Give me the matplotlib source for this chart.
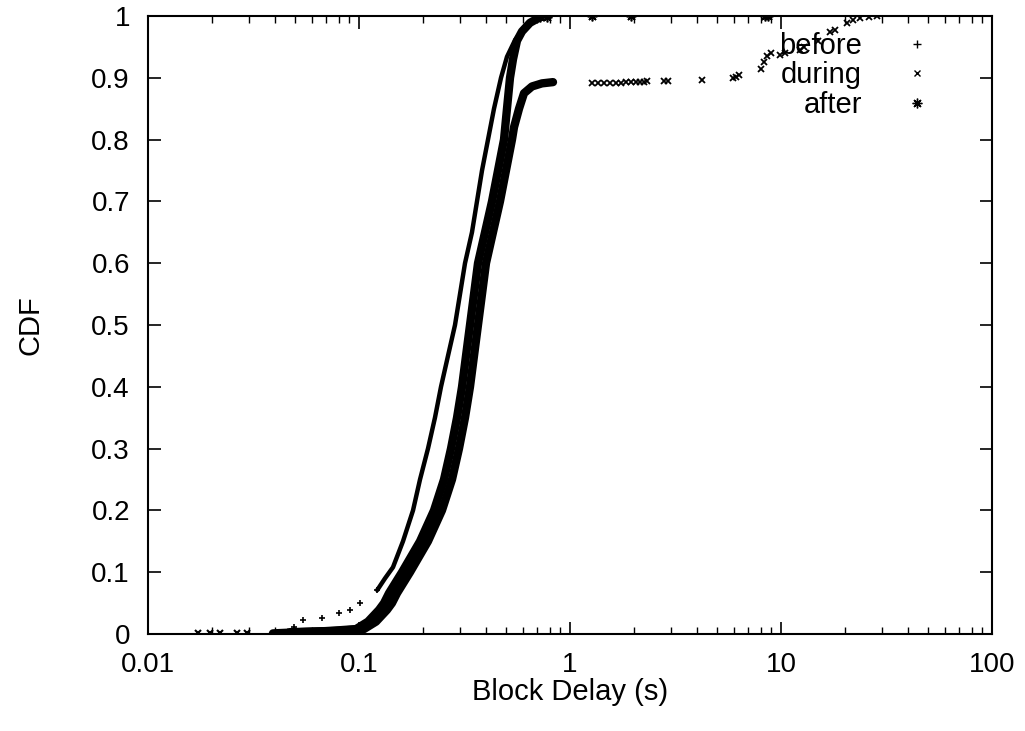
import matplotlib
matplotlib.use("Agg")
import matplotlib.pyplot as plt
from matplotlib.ticker import LogLocator, NullFormatter

plt.rcParams['font.family'] = ['Liberation Sans', 'DejaVu Sans']

# CDF curves: delay (s) vs cumulative fraction
before_x = [0.042, 0.049, 0.054, 0.067, 0.080, 0.091, 0.101, 0.122, 0.1328, 0.1449,
            0.1616, 0.1803, 0.1946, 0.2123, 0.2291, 0.2447, 0.2641, 0.2851, 0.3011,
            0.3180, 0.3431, 0.3624, 0.3828, 0.4087, 0.4363, 0.4710, 0.5027, 0.5487,
            0.6053, 0.6604, 0.7210]
before_y = [0.003, 0.012, 0.023, 0.026, 0.034, 0.039, 0.05, 0.071, 0.09, 0.108,
            0.15, 0.2, 0.25, 0.3, 0.35, 0.4, 0.45, 0.5, 0.55,
            0.6, 0.65, 0.7, 0.75, 0.8, 0.85, 0.9, 0.934, 0.961,
            0.98, 0.993, 1.0]

during_x = [0.0173, 0.0197, 0.0219, 0.0264, 0.0294, 0.0471, 0.0770, 0.1056, 0.1204,
            0.1357, 0.1433, 0.1514, 0.1745, 0.2123, 0.2473, 0.2759, 0.2978, 0.3180,
            0.3358, 0.3508, 0.3664, 0.3828, 0.3999, 0.4315, 0.4658, 0.4973, 0.5310,
            0.5428, 0.5733, 0.6053, 0.6604, 0.7368, 0.8307]
during_y = [0.001, 0.001, 0.002, 0.002, 0.002, 0.003, 0.005, 0.008, 0.02,
            0.039, 0.05, 0.066, 0.1, 0.15, 0.2, 0.25, 0.3, 0.35,
            0.4, 0.45, 0.5, 0.55, 0.6, 0.65, 0.7, 0.75, 0.8,
            0.82, 0.85, 0.875, 0.886, 0.891, 0.893]

# long tail of the "during" curve (sparse points beyond 1 s)
tail_x = [1.27, 1.35, 1.45, 1.55, 1.65, 1.75, 1.85, 1.95, 2.05, 2.15, 2.25, 2.32,
          2.8, 2.9, 4.2, 5.9, 6.1, 6.3, 8.0, 8.3, 8.6, 9.0, 9.9, 10.5, 12.3, 12.8,
          15.0, 17.1, 18.0, 20.6, 22.0, 23.7, 26.0, 28.5]
tail_y = [0.891, 0.891, 0.892, 0.892, 0.892, 0.892, 0.893, 0.893, 0.893, 0.894,
          0.894, 0.895, 0.895, 0.895, 0.896, 0.899, 0.902, 0.905, 0.915, 0.925,
          0.935, 0.94, 0.937, 0.94, 0.945, 0.95, 0.96, 0.974, 0.978, 0.989,
          0.993, 0.997, 0.998, 1.0]

after_x = [0.0391, 0.0525, 0.0729, 0.0968, 0.1103, 0.1244, 0.1314, 0.1387, 0.1599,
           0.1946, 0.2267, 0.2528, 0.2729, 0.2914, 0.3078, 0.3214, 0.3358, 0.3508,
           0.3664, 0.3955, 0.4269, 0.4558, 0.4866, 0.5027, 0.5196, 0.5369, 0.5608,
           0.5922, 0.6462, 0.7210, 0.78, 1.27, 1.95, 8.4, 8.7]
after_y = [0.001, 0.003, 0.005, 0.008, 0.02, 0.039, 0.05, 0.066, 0.1,
           0.15, 0.2, 0.25, 0.3, 0.35, 0.4, 0.45, 0.5, 0.55,
           0.6, 0.65, 0.7, 0.75, 0.8, 0.85, 0.9, 0.93, 0.96,
           0.975, 0.989, 0.998, 0.999, 1.0, 1.0, 1.0, 1.0]

xtick_vals = [0.01, 0.1, 1, 10, 100]
xtick_labels = ["0.01", "0.1", "1", "10", "100"]
ytick_vals = [0, 0.1, 0.2, 0.3, 0.4, 0.5, 0.6, 0.7, 0.8, 0.9, 1]
ytick_labels = ["0", "0.1", "0.2", "0.3", "0.4", "0.5", "0.6", "0.7", "0.8", "0.9", "1"]

fig = plt.figure(figsize=(10.25, 7.31), dpi=100)
ax = fig.add_axes([148/1025, 97/731, 844/1025, 618/731])
ax.set_xscale('log')

# dense parts drawn as thick lines, sparse parts as markers only
ax.plot(before_x[7:], before_y[7:], '-', color='black', lw=3.2, solid_capstyle='round')
ax.plot(before_x[:8], before_y[:8], '+', color='black', ms=5, mew=1.2, ls='none')

ax.plot(during_x[5:], during_y[5:], '-', color='black', lw=6, solid_capstyle='round')
ax.plot(during_x[:6], during_y[:6], 'x', color='black', ms=5, mew=1.5, ls='none')
ax.plot(tail_x, tail_y, 'x', color='black', ms=5, mew=1.3, ls='none')

ax.plot(after_x[:30], after_y[:30], '-', color='black', lw=6, solid_capstyle='round')
ax.plot(after_x[29:], after_y[29:], marker=(8, 2, 0), color='black', ms=7, mew=1.2, ls='none')

# legend entries (gnuplot style: text then symbol)
h1, = ax.plot([], [], '+', color='black', ms=6, mew=1, ls='none')
h2, = ax.plot([], [], 'x', color='black', ms=5, mew=1, ls='none')
h3, = ax.plot([], [], marker=(8, 2, 0), color='black', ms=7, mew=1, ls='none')
leg = ax.legend([h1, h2, h3], ["before", "during", "after"], loc='upper right',
                bbox_to_anchor=(0.96, 0.998), frameon=False, markerfirst=False,
                fontsize=21, handlelength=1.8, handletextpad=1.0, labelspacing=0.05,
                borderpad=0)
for t in leg.get_texts():
    t.set_ha('right')

ax.set_xlim(0.01, 100)
ax.set_ylim(0, 1)
ax.set_xticks(xtick_vals)
ax.set_xticklabels(xtick_labels)
ax.xaxis.set_minor_locator(LogLocator(base=10, subs=[2, 3, 4, 5, 6, 7, 8, 9], numticks=20))
ax.xaxis.set_minor_formatter(NullFormatter())
ax.set_yticks(ytick_vals)
ax.set_yticklabels(ytick_labels)

ax.tick_params(which='both', direction='in', top=True, right=True, labelsize=20, color='black')
ax.tick_params(which='major', length=9, width=1.2)
ax.tick_params(which='minor', length=5, width=1.0)
ax.tick_params(axis='x', pad=13)
ax.tick_params(axis='y', pad=13)
for s in ax.spines.values():
    s.set_linewidth(1.5)
    s.set_color('black')

ax.set_xlabel("Block Delay (s)", fontsize=21, labelpad=0)
ax.set_ylabel("CDF", fontsize=21, labelpad=34)

fig.savefig("out.png", dpi=100)
